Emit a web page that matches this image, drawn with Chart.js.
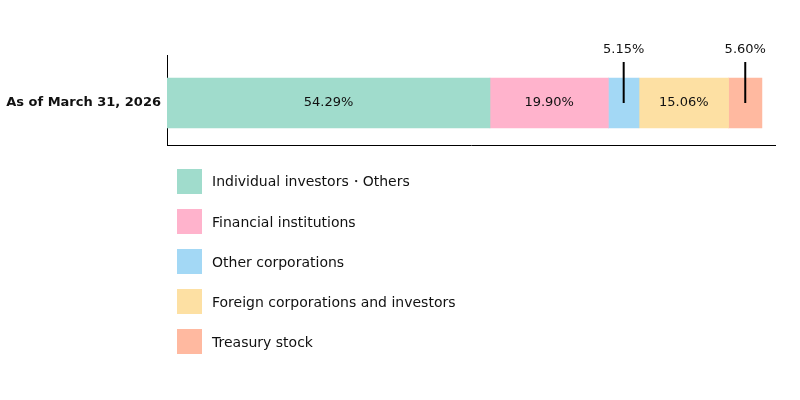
<!DOCTYPE html>
<html>
<head>
<meta charset="utf-8">
<script src="https://cdn.jsdelivr.net/npm/chart.js@4.4.0/dist/chart.umd.min.js"></script>
<style>
  html, body { margin: 0; padding: 0; background: #fff; }
  #wrap { position: relative; width: 800px; height: 400px; }
  #legend { position: absolute; left: 177px; top: 169px; font-family: "DejaVu Sans", sans-serif; font-size: 14px; color: #111; }
  .item { display: flex; align-items: center; height: 25px; margin-bottom: 15px; }
  .box { width: 25px; height: 25px; margin-right: 10px; flex: none; }
</style>
</head>
<body>
<div id="wrap">
  <canvas id="c" width="800" height="400"></canvas>
  <div id="legend"></div>
</div>
<script>
const categories = ["As of March 31, 2026"];
const seriesNames = ["Individual investors・Others", "Financial institutions", "Other corporations", "Foreign corporations and investors", "Treasury stock"];
const individualValues = [54.29];
const financialValues = [19.90];
const otherCorpValues = [5.15];
const foreignValues = [15.06];
const treasuryValues = [5.60];
const seriesColors = ["#a0dccc", "#ffb3cc", "#a3d8f5", "#fde0a3", "#ffb9a0"];
const seriesData = [individualValues, financialValues, otherCorpValues, foreignValues, treasuryValues];
const outsideLabelSeries = [2, 4];

const FONT = '"DejaVu Sans", sans-serif';

const labelPlugin = {
  id: 'segLabels',
  afterDatasetsDraw(chart) {
    const ctx = chart.ctx;
    ctx.save();
    chart.data.datasets.forEach((ds, i) => {
      const meta = chart.getDatasetMeta(i);
      meta.data.forEach((bar, j) => {
        const v = ds.data[j].x;
        const txt = v.toFixed(2) + '%';
        const cx = (bar.x + bar.base) / 2;
        ctx.fillStyle = '#111';
        ctx.font = '13px ' + FONT;
        ctx.textAlign = 'center';
        ctx.textBaseline = 'middle';
        if (outsideLabelSeries.includes(i)) {
          ctx.strokeStyle = '#000';
          ctx.lineWidth = 2;
          ctx.beginPath();
          ctx.moveTo(cx, bar.y - 41);
          ctx.lineTo(cx, bar.y);
          ctx.stroke();
          ctx.fillText(txt, cx, bar.y - 53);
        } else {
          ctx.fillText(txt, cx, bar.y);
        }
      });
    });
    ctx.restore();
  }
};

new Chart(document.getElementById('c'), {
  type: 'bar',
  data: {
    datasets: seriesNames.map((n, i) => ({
      label: n,
      data: seriesData[i].map((v, k) => ({ x: v, y: k })),
      backgroundColor: seriesColors[i],
      borderWidth: 0,
      barThickness: 50
    }))
  },
  options: {
    indexAxis: 'y',
    responsive: false,
    animation: false,
    layout: { padding: { top: 55, right: 25, bottom: 255, left: 0 } },
    plugins: { legend: { display: false }, tooltip: { enabled: false } },
    scales: {
      x: {
        type: 'linear', stacked: true, min: 0, max: 102.2,
        grid: { display: false, drawTicks: false },
        border: { display: true, color: '#000', width: 1 },
        ticks: { display: false }
      },
      y: {
        type: 'linear', stacked: true, min: -0.4333, max: 0.5667, z: 1,
        grid: { display: false, drawTicks: false },
        border: { display: true, color: '#000', width: 1 },
        afterBuildTicks(scale) { scale.ticks = categories.map((c, k) => ({ value: k })); },
        ticks: {
          color: '#111', padding: 6,
          font: { family: FONT, size: 13, weight: 'bold' },
          callback: (v) => categories[v]
        },
        afterFit(scale) { scale.width = 167; }
      }
    }
  },
  plugins: [labelPlugin]
});

const lg = document.getElementById('legend');
seriesNames.forEach((n, i) => {
  const d = document.createElement('div');
  d.className = 'item';
  const b = document.createElement('div');
  b.className = 'box';
  b.style.background = seriesColors[i];
  const t = document.createElement('span');
  t.textContent = n;
  d.appendChild(b); d.appendChild(t);
  lg.appendChild(d);
});
</script>
</body>
</html>
